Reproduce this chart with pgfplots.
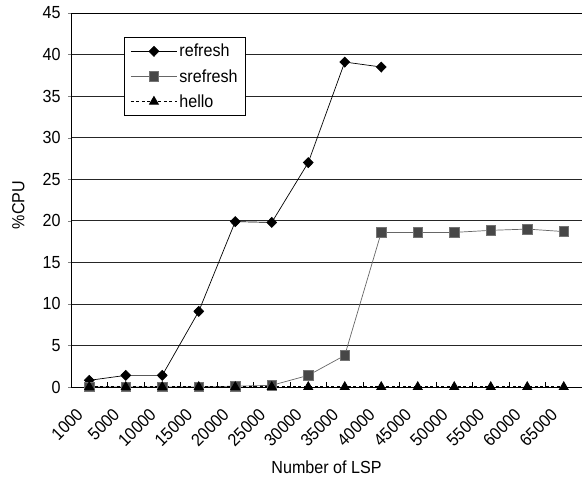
\documentclass[border=0pt]{standalone}
\usepackage{pgfplots}
\pgfplotsset{compat=1.18}
\usepackage{fontspec}
\setmainfont{Liberation Sans}[FakeStretch=0.92]
\begin{document}
\begin{tikzpicture}
\begin{axis}[
  name=ax,
  scale only axis,
  width=511pt, height=374pt,
  xmin=-0.5, xmax=13.5,
  ymin=0, ymax=45,
  font=\fontsize{17.5}{20}\selectfont,
  /pgf/number format/assume math mode=true,
  xtick={0,...,13},
  xticklabels={1000,5000,10000,15000,20000,25000,30000,35000,40000,45000,50000,55000,60000,65000},
  x tick style={draw=none},
  xticklabel style={anchor=east, xshift=-7pt, yshift=-19pt, rotate=45},
  extra x ticks={-0.5,0.5,...,13.5},
  extra x tick labels={},
  extra x tick style={x tick style={draw=black}, tick align=inside, major tick length=5pt, grid=none},
  xtick pos=bottom,
  ytick={0,5,...,45},
  ytick pos=left,
  tick align=outside,
  major tick length=3pt,
  ymajorgrids,
  grid style={black!85, line width=0.6pt},
  axis line style={black, line width=0.7pt},
  yticklabel style={xshift=-4pt},
  xlabel={Number of LSP},
  ylabel={\%CPU},
  xlabel style={at={(axis description cs:0.5,-0.214)}, anchor=center},
  ylabel style={at={(axis description cs:-0.103,0.487)}, anchor=center},
  legend style={at={(0.104,0.936)}, anchor=north west, draw=black, line width=0.6pt,
    font=\fontsize{17.5}{20}\selectfont, row sep=7pt, inner ysep=5pt, inner xsep=6pt,
    cells={anchor=west}},
  legend image code/.code={\draw[mark repeat=2,mark phase=2] plot coordinates {(0pt,0pt)(23pt,0pt)(46pt,0pt)};},
]
\addplot[black, line width=0.7pt, mark=diamond*, mark size=5pt, mark options={solid, fill=black, xscale=1.3}]
  coordinates {(0,0.8)(1,1.4)(2,1.4)(3,9.1)(4,19.9)(5,19.8)(6,27.0)(7,39.1)(8,38.5)};
\addlegendentry{refresh}
\addplot[black!60, line width=0.7pt, mark=square*, mark size=4.8pt, mark options={solid, fill=black!72, draw=black!55}]
  coordinates {(0,0)(1,0)(2,0)(3,0)(4,0.1)(5,0.2)(6,1.4)(7,3.8)(8,18.6)(9,18.6)(10,18.6)(11,18.85)(12,19.0)(13,18.7)};
\addlegendentry{srefresh}
\addplot[black, line width=1pt, dash pattern=on 3pt off 2.5pt, mark=triangle*, mark size=5pt, mark options={solid, fill=black}]
  coordinates {(0,0)(1,0)(2,0)(3,0)(4,0)(5,0)(6,0)(7,0)(8,0)(9,0)(10,0)(11,0)(12,0)(13,0)};
\addlegendentry{hello}
\end{axis}
\pgfresetboundingbox
\path ([shift={(-71pt,-96pt)}]ax.south west) rectangle ([shift={(0pt,13pt)}]ax.north east);
\end{tikzpicture}
\end{document}
